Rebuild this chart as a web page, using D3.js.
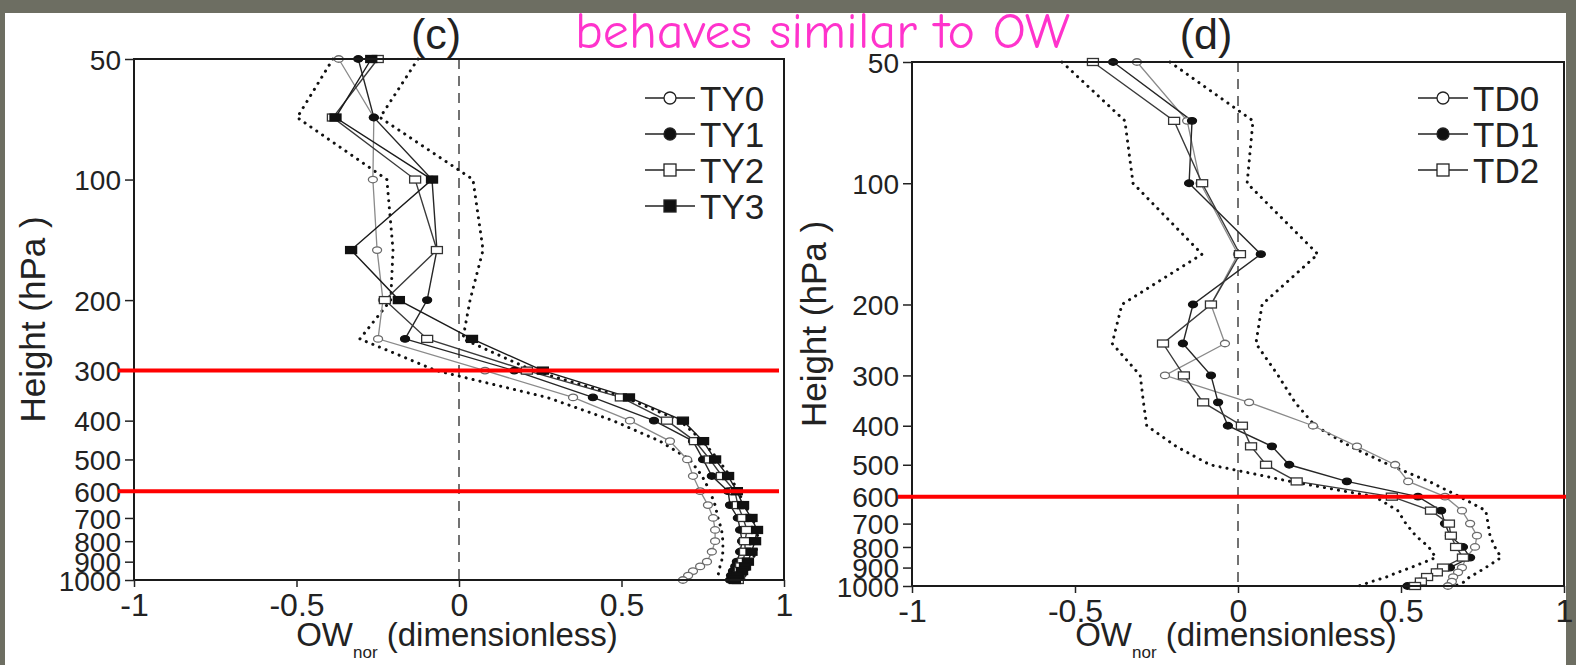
<!DOCTYPE html>
<html>
<head>
<meta charset="utf-8">
<script src="https://cdn.jsdelivr.net/npm/d3@7/dist/d3.min.js"></script>
<style>
  html, body { margin: 0; padding: 0; background: #6d6e62; }
  svg { display: block; }
  .tick text { font-family: "Liberation Sans", Arial, sans-serif; }
</style>
</head>
<body>
<svg id="chart" width="1576" height="665"></svg>
<script>
// Pressure levels (hPa) shared by every profile
const levels = [50, 70, 100, 150, 200, 250, 300, 350, 400, 450, 500, 550, 600,
                650, 700, 750, 800, 850, 900, 925, 950, 975, 1000];

// Panel (c): typhoon composites
const ty0 = [-0.37, -0.262, -0.265, -0.252, -0.234, -0.249, 0.08, 0.351, 0.526, 0.649, 0.702, 0.72, 0.742,
             0.766, 0.782, 0.788, 0.788, 0.778, 0.763, 0.742, 0.72, 0.705, 0.689];
const ty1 = [-0.31, -0.262, -0.083, -0.068, -0.098, -0.166, 0.17, 0.412, 0.60, 0.72, 0.751, 0.778, 0.828,
             0.834, 0.858, 0.865, 0.871, 0.865, 0.855, 0.85, 0.843, 0.837, 0.834];
const ty2 = [-0.25, -0.388, -0.135, -0.068, -0.228, -0.098, 0.209, 0.498, 0.64, 0.726, 0.772, 0.809, 0.849,
             0.858, 0.874, 0.886, 0.88, 0.88, 0.874, 0.868, 0.865, 0.862, 0.858];
const ty3 = [-0.27, -0.38, -0.083, -0.332, -0.185, 0.04, 0.258, 0.523, 0.689, 0.751, 0.788, 0.828, 0.855,
             0.874, 0.90, 0.917, 0.911, 0.90, 0.889, 0.88, 0.871, 0.858, 0.849];
const tyLow = [-0.388, -0.498, -0.222, -0.203, -0.21, -0.305, -0.07, 0.271, 0.474, 0.618, 0.71, 0.748, 0.772,
               0.788, 0.797, 0.808, 0.812, 0.812, 0.808, 0.803, 0.80, 0.797, 0.797];
const tyHigh = [-0.126, -0.243, 0.043, 0.074, 0.034, 0.012, 0.228, 0.51, 0.68, 0.75, 0.797, 0.834, 0.858,
                0.88, 0.902, 0.917, 0.92, 0.914, 0.90, 0.895, 0.889, 0.88, 0.87];

// Panel (d): tropical depression composites
const td0 = [-0.31, -0.156, -0.115, 0.0, -0.083, -0.04, -0.224, 0.034, 0.23, 0.365, 0.482, 0.522, 0.635,
             0.687, 0.712, 0.733, 0.727, 0.70, 0.687, 0.675, 0.66, 0.656, 0.644];
const td1 = [-0.383, -0.141, -0.15, 0.07, -0.138, -0.169, -0.083, -0.061, -0.031, 0.104, 0.157, 0.334, 0.552,
             0.623, 0.635, 0.65, 0.69, 0.712, 0.65, 0.61, 0.58, 0.558, 0.52];
const td2 = [-0.445, -0.196, -0.11, 0.006, -0.083, -0.23, -0.166, -0.107, 0.012, 0.04, 0.086, 0.18, 0.472,
             0.592, 0.647, 0.653, 0.669, 0.69, 0.629, 0.61, 0.58, 0.561, 0.543];
const tdLow = [-0.54, -0.347, -0.322, -0.11, -0.356, -0.386, -0.30, -0.29, -0.28, -0.19, -0.086, 0.16, 0.42,
               0.49, 0.515, 0.545, 0.585, 0.607, 0.53, 0.49, 0.455, 0.41, 0.37];
const tdHigh = [-0.209, 0.046, 0.028, 0.245, 0.074, 0.055, 0.123, 0.175, 0.236, 0.344, 0.463, 0.586, 0.68,
                0.76, 0.767, 0.773, 0.788, 0.807, 0.76, 0.736, 0.71, 0.696, 0.666];

// Axis ticks
const yTickValues = [50, 100, 200, 300, 400, 500, 600, 700, 800, 900, 1000];
const xTickValues = [-1, -0.5, 0, 0.5, 1];
const xTickLabels = ["-1", "-0.5", "0", "0.5", "1"];

// Highlighted pressure levels
const markedC = [300, 600];
const markedD = [600];

const svg = d3.select("#chart");
const FONT = '"Liberation Sans", Arial, Helvetica, sans-serif';

// page sheet
svg.append("rect").attr("x", 5).attr("y", 13).attr("width", 1561).attr("height", 652).attr("fill", "#ffffff");

// marker styles per series kind
const styles = {
  openCircle:   { line: "#8a8a8a", width: 1.3, shape: "circle", fill: "#ffffff", stroke: "#6a6a6a" },
  filledCircle: { line: "#262626", width: 1.4, shape: "circle", fill: "#111111", stroke: "#111111" },
  openSquare:   { line: "#3a3a3a", width: 1.4, shape: "square", fill: "#ffffff", stroke: "#333333" },
  filledSquare: { line: "#1a1a1a", width: 1.4, shape: "square", fill: "#111111", stroke: "#111111" }
};

function drawMarker(g, shape, st, cx, cy, w, h) {
  if (shape === "circle") {
    g.append("ellipse").attr("cx", cx).attr("cy", cy).attr("rx", w / 2).attr("ry", h / 2)
      .attr("fill", st.fill).attr("stroke", st.stroke).attr("stroke-width", 1.3);
  } else {
    g.append("rect").attr("x", cx - w / 2).attr("y", cy - h / 2).attr("width", w).attr("height", h)
      .attr("fill", st.fill).attr("stroke", st.stroke).attr("stroke-width", 1.3);
  }
}

function drawPanel(cfg) {
  const x = d3.scaleLinear().domain([-1, 1]).range([cfg.left, cfg.right]);
  const y = d3.scaleLog().domain([50, 1000]).range([cfg.top, cfg.bottom]);
  const g = svg.append("g");

  // zero reference
  g.append("line").attr("x1", x(0)).attr("x2", x(0)).attr("y1", cfg.top).attr("y2", cfg.bottom)
    .attr("stroke", "#444").attr("stroke-width", 1.5).attr("stroke-dasharray", "10,7");

  const line = d3.line().x(d => x(d[1])).y(d => y(d[0]));

  // dotted envelope
  [cfg.low, cfg.high].forEach(arr => {
    g.append("path").datum(levels.map((p, i) => [p, arr[i]]))
      .attr("d", line).attr("fill", "none").attr("stroke", "#111")
      .attr("stroke-width", 3).attr("stroke-linecap", "round").attr("stroke-dasharray", "0.1,7");
  });

  // profiles
  cfg.series.forEach(s => {
    const st = styles[s.kind];
    const pts = levels.map((p, i) => [p, s.values[i]]);
    g.append("path").datum(pts).attr("d", line).attr("fill", "none")
      .attr("stroke", st.line).attr("stroke-width", st.width);
  });
  cfg.series.forEach(s => {
    const st = styles[s.kind];
    const mg = g.append("g");
    levels.forEach((p, i) => {
      const w = st.shape === "circle" ? 9 : 11;
      const h = st.shape === "circle" ? 6.5 : 7;
      drawMarker(mg, st.shape, st, x(s.values[i]), y(p), w, h);
    });
  });

  // frame
  g.append("rect").attr("x", cfg.left).attr("y", cfg.top)
    .attr("width", cfg.right - cfg.left).attr("height", cfg.bottom - cfg.top)
    .attr("fill", "none").attr("stroke", "#1a1a1a").attr("stroke-width", 2);

  // axes
  const yAxis = d3.axisLeft(y).tickValues(yTickValues).tickFormat(d3.format("d"))
    .tickSize(9).tickPadding(4);
  const ya = g.append("g").attr("transform", `translate(${cfg.left},0)`).call(yAxis);
  ya.select(".domain").remove();
  ya.selectAll(".tick line").attr("stroke", "#222").attr("stroke-width", 1.5);
  ya.selectAll(".tick text").attr("font-size", 28).attr("fill", "#222")
    .attr("font-family", FONT).attr("dy", "0.36em");

  const xAxis = d3.axisBottom(x).tickValues(xTickValues)
    .tickFormat((d, i) => xTickLabels[i]).tickSize(7).tickPadding(6);
  const xa = g.append("g").attr("transform", `translate(0,${cfg.bottom})`).call(xAxis);
  xa.select(".domain").remove();
  xa.selectAll(".tick line").attr("stroke", "#222").attr("stroke-width", 1.5);
  xa.selectAll(".tick text").attr("font-size", 32).attr("fill", "#222").attr("font-family", FONT);

  // axis titles
  svg.append("text").attr("transform", `translate(${cfg.yLabelX},${(cfg.top + cfg.bottom) / 2}) rotate(-90)`)
    .attr("text-anchor", "middle").attr("font-family", FONT).attr("font-size", 35).attr("fill", "#222")
    .text("Height (hPa )");

  const xl = svg.append("text").attr("x", x(0) - 2).attr("y", 646).attr("text-anchor", "middle")
    .attr("font-family", FONT).attr("font-size", 33).attr("fill", "#222");
  xl.append("tspan").text("OW");
  xl.append("tspan").attr("font-size", 17).attr("dy", 12).text("nor");
  xl.append("tspan").attr("dy", -12).text(" (dimensionless)");

  // panel letter
  svg.append("text").attr("x", cfg.letterX).attr("y", 49).attr("text-anchor", "middle")
    .attr("font-family", FONT).attr("font-size", 43).attr("fill", "#222").text(cfg.letter);

  // legend
  cfg.series.forEach((s, i) => {
    const st = styles[s.kind];
    const ly = cfg.legendY + i * 36;
    const lg = svg.append("g");
    lg.append("line").attr("x1", cfg.legendX).attr("x2", cfg.legendX + 50).attr("y1", ly).attr("y2", ly)
      .attr("stroke", "#222").attr("stroke-width", 1.6);
    drawMarker(lg, st.shape, Object.assign({}, st, { stroke: "#222", fill: st.fill === "#ffffff" ? "#ffffff" : "#111" }),
      cfg.legendX + 25, ly, 12, 12);
    lg.append("text").attr("x", cfg.legendX + 55).attr("y", ly).attr("dy", "0.36em")
      .attr("font-family", FONT).attr("font-size", 35).attr("fill", "#222").text(s.name);
  });

  // highlighted levels
  cfg.marked.forEach(p => {
    svg.append("line").attr("x1", cfg.redFrom).attr("x2", cfg.redTo).attr("y1", y(p)).attr("y2", y(p))
      .attr("stroke", "#ff0000").attr("stroke-width", 4);
  });
}

drawPanel({
  left: 134, right: 784, top: 59, bottom: 580,
  low: tyLow, high: tyHigh,
  series: [
    { name: "TY0", kind: "openCircle", values: ty0 },
    { name: "TY1", kind: "filledCircle", values: ty1 },
    { name: "TY2", kind: "openSquare", values: ty2 },
    { name: "TY3", kind: "filledSquare", values: ty3 }
  ],
  legendX: 645, legendY: 98,
  yLabelX: 45, letter: "(c)", letterX: 436,
  marked: markedC, redFrom: 118, redTo: 779
});

drawPanel({
  left: 912, right: 1564, top: 62, bottom: 586,
  low: tdLow, high: tdHigh,
  series: [
    { name: "TD0", kind: "openCircle", values: td0 },
    { name: "TD1", kind: "filledCircle", values: td1 },
    { name: "TD2", kind: "openSquare", values: td2 }
  ],
  legendX: 1418, legendY: 98,
  yLabelX: 826, letter: "(d)", letterX: 1206,
  marked: markedD, redFrom: 898, redTo: 1566
});

// headline
svg.append("text").attr("x", 575).attr("y", 48)
  .attr("font-family", '"Comic Sans MS", "Comic Neue", "Noto Sans", sans-serif')
  .attr("font-size", 50).attr("fill", "#ff33cc")
  .attr("textLength", 495).attr("lengthAdjust", "spacingAndGlyphs")
  .text("behaves similar to OW");
</script>
</body>
</html>
